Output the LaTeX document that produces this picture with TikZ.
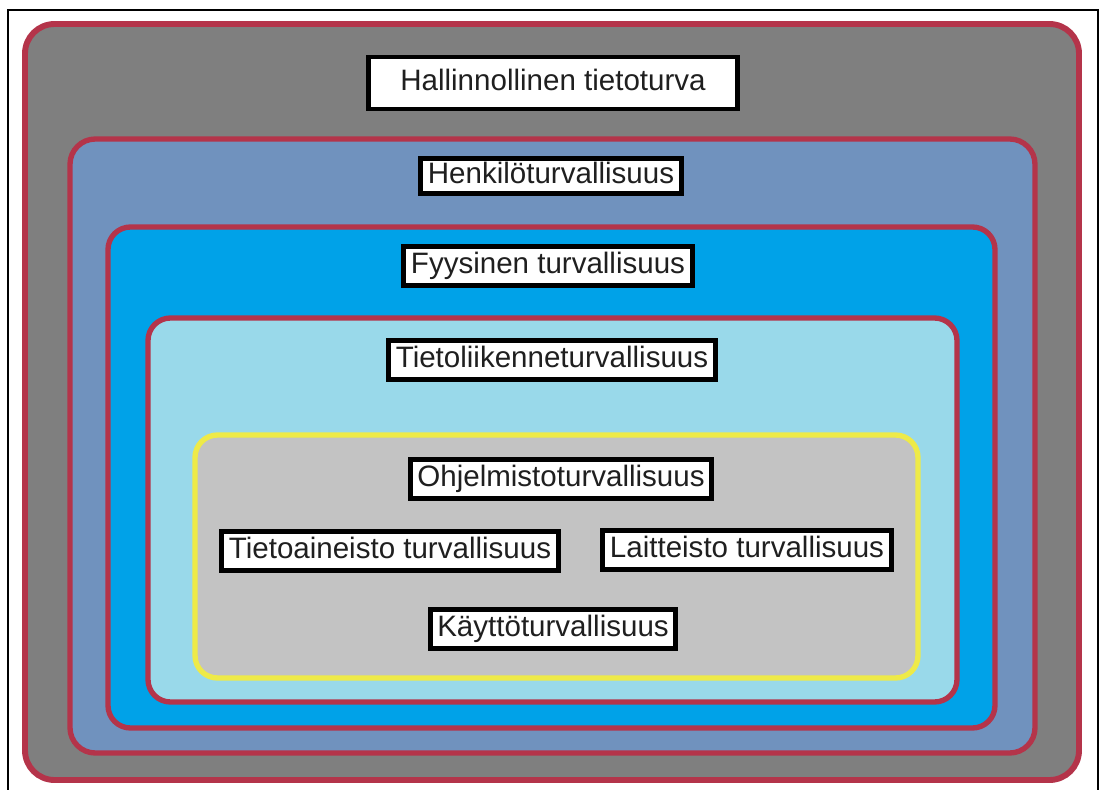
\documentclass[tikz,border=0pt]{standalone}
\usepackage{fontspec}
\setmainfont{Liberation Sans}
\definecolor{borda}{RGB}{180,52,74}
\definecolor{cinza}{RGB}{127,127,127}
\definecolor{azulcinza}{RGB}{112,146,190}
\definecolor{azul}{RGB}{0,162,232}
\definecolor{azulclaro}{RGB}{153,217,234}
\definecolor{prata}{RGB}{195,195,195}
\definecolor{amarelo}{RGB}{238,234,72}

\begin{document}
\begin{tikzpicture}[x=0.025cm,y=-0.025cm,
  camada/.style={draw=borda,line width=3.8pt,rounded corners=16pt},
  rotulo/.style={draw=black,fill=white,line width=3.5pt,inner xsep=5pt,inner ysep=4pt,
    text=black!88,font=\fontsize{21}{25}\selectfont,text height=15pt,text depth=4.5pt}]
	% moldura
	\useasboundingbox (0,0) rectangle (1100,790);
	\fill[white] (0,0) rectangle (1100,790);
	\draw[line width=2pt] (8,790) -- (8,10) -- (1098,10) -- (1098,790);
	% camadas
	\draw[camada,fill=cinza,rounded corners=21pt,line width=4.2pt] (25,24) rectangle (1079,780);
	\draw[camada,fill=azulcinza,rounded corners=18pt] (70,139) rectangle (1035,753);
	\draw[camada,fill=azul] (108,227) rectangle (995,728);
	\draw[camada,fill=azulclaro] (148,318) rectangle (957,702);
	\draw[camada,fill=prata,draw=amarelo] (195,435) rectangle (918,678);
	% rotulos
	\node[rotulo,minimum width=262pt,minimum height=37pt] (hallinto) at (553,83) {Hallinnollinen tietoturva};
	\node[rotulo,inner ysep=2.5pt] (henkilo) at (551,176) {Henkilöturvallisuus};
	\node[rotulo] (fyysinen) at (548,266) {Fyysinen turvallisuus};
	\node[rotulo] (tietoliikenne) at (552,360) {Tietoliikenneturvallisuus};
	\node[rotulo] (ohjelmisto) at (561,479) {Ohjelmistoturvallisuus};
	\node[rotulo] (tietoaineisto) at (390,551) {Tietoaineisto turvallisuus};
	\node[rotulo] (laitteisto) at (747,550) {Laitteisto turvallisuus};
	\node[rotulo] (kaytto) at (553,629) {Käyttöturvallisuus};
\end{tikzpicture}
\end{document}
